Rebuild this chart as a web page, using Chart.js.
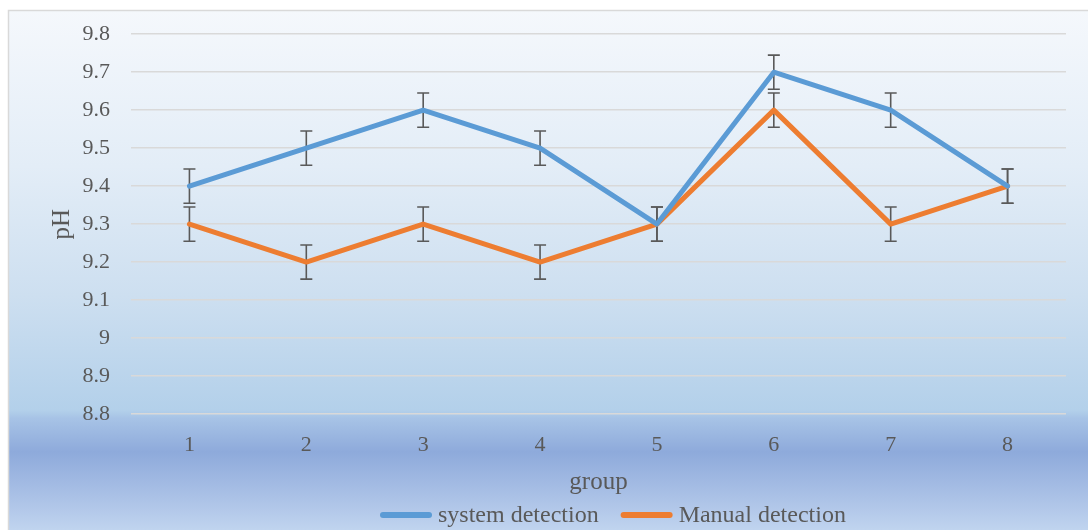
<!DOCTYPE html>
<html>
<head>
<meta charset="utf-8">
<script src="https://cdn.jsdelivr.net/npm/chart.js@4.4.0/dist/chart.umd.min.js"></script>
<style>
html,body{margin:0;padding:0;background:#fff;}
#wrap{width:1088px;height:530px;position:relative;}
</style>
</head>
<body>
<div id="wrap"><canvas id="c" width="1088" height="530"></canvas></div>
<script>
const groups = ['1','2','3','4','5','6','7','8'];
const systemDetection = [9.4, 9.5, 9.6, 9.5, 9.3, 9.7, 9.6, 9.4];
const manualDetection = [9.3, 9.2, 9.3, 9.2, 9.3, 9.6, 9.3, 9.4];
const systemError = [0.045, 0.045, 0.045, 0.045, 0.045, 0.045, 0.045, 0.045];
const manualError = [0.045, 0.045, 0.045, 0.045, 0.045, 0.045, 0.045, 0.045];
const seriesNames = ['system detection', 'Manual detection'];
const yMin = 8.8, yMax = 9.8, yStep = 0.1;

const FONT = "'Liberation Serif', 'Times New Roman', serif";
const TEXT = '#595959';

const bgPlugin = {
  id: 'bg',
  beforeDraw(chart) {
    const ctx = chart.ctx;
    ctx.save();
    ctx.fillStyle = '#ffffff';
    ctx.fillRect(0, 0, chart.width, chart.height);
    const x0 = 8, y0 = 10, h = chart.height - y0;
    const g = ctx.createLinearGradient(0, y0, 0, chart.height);
    g.addColorStop(0, '#f5f8fc');
    g.addColorStop(0.3, '#e3edf7');
    g.addColorStop(0.55, '#cddff0');
    g.addColorStop(0.77, '#b3d0ea');
    g.addColorStop(0.785, '#a7c3e6');
    g.addColorStop(0.85, '#8eaadb');
    g.addColorStop(0.95, '#afc5e8');
    g.addColorStop(1, '#c0d4ef');
    ctx.fillStyle = g;
    ctx.fillRect(x0, y0, chart.width - x0 + 5, h + 5);
    ctx.strokeStyle = '#d9d9d9';
    ctx.lineWidth = 1.5;
    ctx.strokeRect(x0 + 0.5, y0 + 0.5, chart.width + 10, h + 10);
    ctx.restore();
  }
};

const errPlugin = {
  id: 'errbars',
  beforeDatasetsDraw(chart) {
    const ctx = chart.ctx;
    const xs = chart.scales.x, ys = chart.scales.y;
    const sets = [[systemDetection, systemError], [manualDetection, manualError]];
    ctx.save();
    ctx.strokeStyle = '#595959';
    ctx.lineWidth = 1.6;
    sets.forEach(([vals, errs]) => {
      vals.forEach((v, i) => {
        const x = xs.getPixelForValue(i);
        const yt = ys.getPixelForValue(v + errs[i]);
        const yb = ys.getPixelForValue(v - errs[i]);
        ctx.beginPath();
        ctx.moveTo(x, yt); ctx.lineTo(x, yb);
        ctx.moveTo(x - 6, yt); ctx.lineTo(x + 6, yt);
        ctx.moveTo(x - 6, yb); ctx.lineTo(x + 6, yb);
        ctx.stroke();
      });
    });
    ctx.restore();
  }
};

const legendPlugin = {
  id: 'customLegend',
  afterDraw(chart) {
    const ctx = chart.ctx;
    ctx.save();
    ctx.font = "24px " + FONT;
    ctx.textBaseline = 'middle';
    ctx.textAlign = 'left';
    let x = 383;
    const y = 515;
    chart.data.datasets.forEach((ds, i) => {
      ctx.strokeStyle = ds.borderColor;
      ctx.lineWidth = 6;
      ctx.lineCap = 'round';
      ctx.beginPath();
      ctx.moveTo(x, y); ctx.lineTo(x + 46, y);
      ctx.stroke();
      x += 55;
      ctx.fillStyle = TEXT;
      ctx.fillText(ds.label, x, y + 1);
      x += ctx.measureText(ds.label).width + 25;
    });
    ctx.restore();
  }
};

new Chart(document.getElementById('c'), {
  type: 'line',
  data: {
    labels: groups,
    datasets: [
      {
        label: seriesNames[0],
        data: systemDetection,
        borderColor: '#5b9bd5',
        backgroundColor: '#5b9bd5',
        borderWidth: 5,
        pointRadius: 0,
        borderJoinStyle: 'round',
        borderCapStyle: 'round',
        tension: 0
      },
      {
        label: seriesNames[1],
        data: manualDetection,
        borderColor: '#ed7d31',
        backgroundColor: '#ed7d31',
        borderWidth: 5,
        pointRadius: 0,
        borderJoinStyle: 'round',
        borderCapStyle: 'round',
        tension: 0
      }
    ]
  },
  options: {
    responsive: false,
    animation: false,
    devicePixelRatio: 1,
    layout: { padding: { left: 0, right: 22, top: 33, bottom: 36 } },
    plugins: {
      legend: { display: false },
      tooltip: { enabled: false }
    },
    scales: {
      x: {
        offset: true,
        grid: { display: false },
        border: { display: false },
        ticks: { font: { family: FONT, size: 22 }, color: TEXT, padding: 10 },
        title: { display: true, text: 'group', font: { family: FONT, size: 25 }, color: TEXT, padding: { top: 0, bottom: -3 } },
        afterFit(s) { s.height = 80; }
      },
      y: {
        min: yMin,
        max: yMax,
        grid: { color: '#d9d9d9', lineWidth: 1.5, drawTicks: false },
        border: { display: false },
        ticks: {
          stepSize: yStep,
          font: { family: FONT, size: 22 },
          color: TEXT,
          padding: 21,
          callback: (v) => String(Math.round(v * 10) / 10)
        },
        title: { display: true, text: 'pH', font: { family: FONT, size: 25 }, color: TEXT, padding: { top: 47 } },
        afterFit(s) { s.width = 131; }
      }
    }
  },
  plugins: [bgPlugin, errPlugin, legendPlugin]
});
</script>
</body>
</html>
